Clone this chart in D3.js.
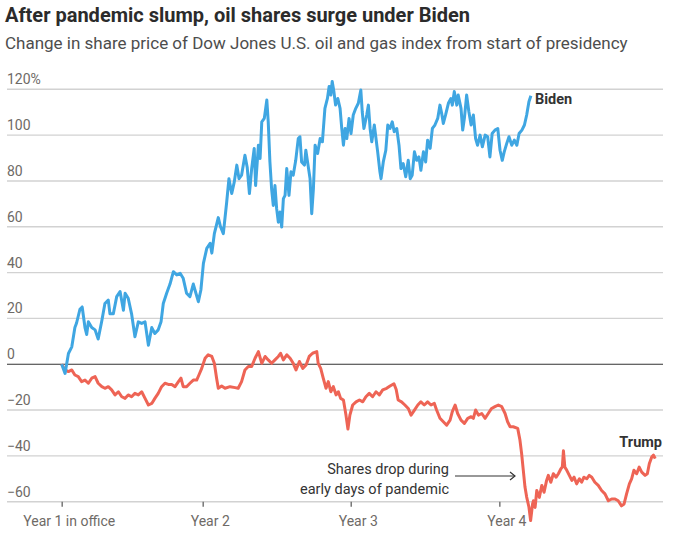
<!DOCTYPE html>
<html><head><meta charset="utf-8">
<script src="https://cdn.jsdelivr.net/npm/d3@7"></script>
<style>
body{margin:0;background:#fff;}
svg text{font-family:Roboto, "Noto Sans", sans-serif;}
</style></head>
<body><svg id="c" width="676" height="540"></svg>
<script>
// weeks since inauguration, % change in share price
const bidenWeeks = [0,1.2,2.4,3.6,4.7,5.3,6.5,7.3,8.3,8.9,9.5,10.7,11.9,13.0,14.3,15.4,16.6,17.2,18.4,19.6,20.8,22.0,22.6,23.7,24.9,26.1,27.3,28.5,29.7,30.9,32.1,33.2,34.4,35.4,36.2,37.4,38.6,39.8,41.0,42.2,43.3,44.5,45.7,46.9,47.5,48.7,49.6,50.5,51.7,52.9,53.5,54.4,55.8,56.6,57.6,58.8,59.6,60.6,61.5,62.4,63.2,64.1,65.3,66.1,66.9,67.7,68.6,69.1,70.1,70.7,71.3,72.2,73.1,73.6,74.2,74.8,75.4,76.0,76.6,77.2,77.8,78.4,79.0,79.6,80.2,81.0,81.7,82.5,83.4,84.3,84.9,85.5,86.5,87.0,87.7,88.5,89.1,89.7,90.3,91.2,92.1,92.9,93.8,94.7,95.3,95.9,96.4,97.0,97.6,98.4,99.2,99.8,100.4,101.0,101.6,102.4,103.1,103.9,104.8,105.7,106.6,107.1,107.7,108.7,109.3,109.9,110.5,111.4,112.6,113.4,113.8,114.6,115.5,116.2,117.0,117.8,118.5,119.4,120.2,120.9,121.7,122.6,123.5,124.2,124.9,125.7,126.5,127.3,128.0,128.9,129.7,130.4,131.3,132.1,133.0,134.0,134.8,135.4,136.0,136.8,137.8,138.7,139.2,139.9,140.8,141.3,142.3,142.9,143.5,144.3,145.1,145.9,146.7,147.5,148.2,149.1,149.9,150.9,151.8,152.6,153.4,154.4,155.4,156.2,157.0,157.7,158.6,159.4,160.4,161.3,162.2,163.0,164.0,164.9,165.7,166.5,167.2];
const bidenValues = [0,-4,4.7,7.6,16,18,24,25,16,13,18.5,16,15,11,19,26.5,28,22,22,29.5,31.7,23.6,31,28.8,22,12,18.5,17.8,18.5,8.3,16,13.4,15,18.5,26.5,31,35,40.4,39,39.7,37.5,31,29.5,35,32.4,27.3,32.4,44,50.6,52.8,48.5,57,64,60,57,70.8,81,74.5,79.6,86.9,81,82.5,91.2,86,74.5,85.4,94.2,78,95.6,89.8,105.8,107.3,115.3,105.8,88.3,76.6,69.3,78,67.9,62,66.4,59.9,72.3,73.7,85.4,73.7,84,82.5,89,98.5,99.3,88.3,86.9,93.4,87.6,81,65.7,76.6,95.6,92,98.5,97.1,111.7,116,121.2,117.5,123.4,119,113.1,116,111.7,102.9,95.6,102.9,98.5,107.3,100.7,108.8,111.7,113.9,119.7,110.2,102.9,108.8,113.1,102.9,97.1,104.4,92.7,84,81,88.3,93.4,104.4,102.9,105.8,101.5,102.9,95.6,85.4,87.6,81.8,89,81,82.5,92.7,89,90.5,84.7,92.7,88.3,97.8,94.2,102.9,104.4,107.3,113.1,109.5,105.1,108.8,113.9,116,113.1,119,113.1,117.5,111.7,102.2,107.3,117.5,110.2,104.4,108.8,98.5,95.6,100,94.9,100,99.3,90.5,100.7,102.2,102.9,93.4,89,92.7,96.4,99.3,95.6,97.8,95.6,100.7,102.2,104.4,108.8,114.6,117.2];

const trumpWeeks = [0,1.2,2.4,3.6,4.7,5.9,7.1,8.3,9.5,10.7,11.9,13.0,14.3,15.4,16.6,17.8,19.0,20.2,21.4,22.6,23.7,24.9,26.1,27.3,28.5,29.7,30.9,32.1,33.2,34.4,35.6,36.8,38.0,39.2,40.4,41.6,42.5,43.3,44.5,45.7,46.9,48.1,48.9,49.9,51.1,52.2,53.5,54.4,55.2,55.8,57.0,58.2,60.0,61.8,62.9,64.1,65.3,66.5,67.7,68.9,70.1,71.3,72.5,73.6,74.8,76.0,77.2,78.0,79.0,80.2,81.4,82.5,83.5,84.7,85.9,87.1,88.2,89.4,90.9,91.4,92.3,93.2,94.2,95.0,95.9,96.8,97.8,98.6,99.4,100.4,101.3,102.0,102.7,103.7,104.9,106.1,107.3,108.4,109.6,110.8,112.0,113.2,114.4,115.8,117.0,118.4,119.2,119.9,121.1,122.3,123.5,124.5,125.7,126.9,128.0,129.2,130.4,131.6,132.8,133.6,134.8,136.0,137.2,138.4,139.2,140.2,141.1,142.3,143.5,144.7,145.9,146.7,147.5,148.5,149.7,150.9,152.0,153.2,154.4,155.6,156.8,158.0,158.9,159.8,160.9,162.5,163.3,163.9,164.5,165.1,165.7,166.5,167.1,167.8,168.1,168.7,169.3,170.2,171.1,171.9,172.8,173.4,174.3,175.2,176.2,177.0,177.9,178.4,178.8,179.3,180.0,180.9,181.8,182.6,183.5,184.5,185.3,186.1,187.1,188.0,188.9,190.0,191.2,192.4,193.6,194.8,196.0,197.2,198.3,199.5,200.4,201.3,202.3,203.1,203.9,204.9,205.8,206.7,207.9,208.7,209.4,210.3,210.9,211.5];
const trumpValues = [0,-2.5,-3.2,-2.5,-4.7,-5.4,-7.6,-6.9,-8.3,-6.1,-5.4,-8.3,-9.8,-10.5,-9.8,-11.2,-13.4,-12,-14.2,-14.9,-13.4,-14.2,-12.7,-13.4,-12,-14.9,-17.8,-17.1,-14.9,-12.7,-9.8,-8.3,-8.8,-8.8,-9.8,-7.6,-6.1,-9.8,-9.8,-8.3,-6.9,-6.9,-4.7,-1.8,2.6,4.1,3.4,0.4,-6.1,-10.5,-9.5,-10.5,-9.8,-10.2,-10.5,-7.6,-2.5,-1,-1,2.6,5.5,0.4,3.4,1.9,0.4,1.9,3.4,4.8,1.9,4.1,2.6,0.4,-2.5,1.2,-1.8,-0.3,3.4,4.8,5.5,0.4,-1.8,-6.1,-10.5,-7.6,-12,-9.8,-13.4,-12,-14.9,-15.6,-22.2,-28.3,-22.2,-17.8,-16.4,-15.6,-16.4,-14.2,-12.7,-14.2,-12,-13.4,-11.2,-10.5,-9.5,-8.5,-11,-15.6,-16.4,-17.8,-19.3,-22.2,-20,-17.8,-16.4,-17.8,-16.4,-17.8,-17.1,-20,-23.6,-25.1,-26.6,-24.4,-20.7,-17.8,-21.5,-24.4,-25.8,-23.6,-22.9,-23.6,-20,-22.2,-21.5,-23.6,-21.5,-19.3,-18.5,-17.8,-18.5,-21.5,-25.1,-27.3,-27.3,-28,-33.1,-39,-46.3,-53.6,-58,-62.3,-68.2,-61,-59.6,-62.5,-55.1,-58.1,-52.9,-55.9,-50.7,-48.5,-51.5,-47.8,-49.3,-47.8,-45.6,-44.9,-37.8,-44.9,-46.3,-48.5,-50.7,-49.3,-52.2,-50,-51.5,-49.3,-50,-48.5,-49.3,-51.5,-52.9,-55.1,-56.6,-59.6,-58.8,-58.8,-59.6,-61.8,-61,-56.6,-52.2,-50,-46.3,-47.8,-44.9,-47.1,-48.5,-47.8,-43.4,-40.4,-39.7,-41.2];

const yTicks = [120,100,80,60,40,20,0,-20,-40,-60];
const xTickWeeks = [0,50.25,103,155.95];
const xTickLabels = ["Year 1 in office","Year 2","Year 3","Year 4"];
const titleText = "After pandemic slump, oil shares surge under Biden";
const subtitleText = "Change in share price of Dow Jones U.S. oil and gas index from start of presidency";
const annotationLines = ["Shares drop during","early days of pandemic"];

const svg = d3.select("#c");
const x = d3.scaleLinear().domain([0,211.5]).range([61.7,655.2]);
const y = d3.scaleLinear().domain([-60,120]).range([501.7,89.3]);
const gridLeft = 7, gridRight = 663;

svg.append("text").attr("x",5).attr("y",22).attr("font-size",20).attr("font-weight","bold").attr("fill","#2b2b2b").text(titleText);
svg.append("text").attr("x",5).attr("y",49).attr("font-size",17).attr("fill","#4d4d4d").text(subtitleText);

const fmt = d => (d===120? "120%" : (d<0? "\u2212"+Math.abs(d) : String(d)));
yTicks.forEach(t=>{
  svg.append("line").attr("x1",gridLeft).attr("x2",gridRight).attr("y1",y(t)).attr("y2",y(t))
    .attr("stroke", t===0? "#333":"#d2d2d2").attr("stroke-width", t===0?1.2:1.4);
  svg.append("text").attr("x",gridLeft).attr("y",y(t)-5).attr("font-size",14).attr("fill","#6e6a66")
    .text(fmt(t));
});

// x axis ticks
const xAxis = d3.axisBottom(x).tickValues(xTickWeeks).tickSize(5).tickFormat((d,i)=>xTickLabels[i]);
const gx = svg.append("g").attr("transform",`translate(0,${y(-60)})`).call(xAxis);
gx.select(".domain").remove();
gx.selectAll(".tick line").attr("stroke","#777").attr("stroke-width",1.5);
gx.selectAll(".tick text").attr("font-size",14).attr("fill","#6e6a66").attr("dy",0).attr("y",24).attr("dx",7)
  .attr("font-family","Roboto, sans-serif");

const line = d3.line().x(d=>x(d[0])).y(d=>y(d[1]));
const trump = trumpWeeks.map((w,i)=>[w,trumpValues[i]]);
const biden = bidenWeeks.map((w,i)=>[w,bidenValues[i]]);
svg.append("path").datum(trump).attr("d",line).attr("fill","none").attr("stroke","#ee6455").attr("stroke-width",3).attr("stroke-linejoin","round");
svg.append("path").datum(biden).attr("d",line).attr("fill","none").attr("stroke","#3fa6e2").attr("stroke-width",3).attr("stroke-linejoin","round");

svg.append("text").attr("x",535).attr("y",103.5).attr("font-size",14.5).attr("font-weight","bold").attr("fill","#333").text("Biden");
svg.append("text").attr("x",662).attr("y",447).attr("text-anchor","end").attr("font-size",14.5).attr("font-weight","bold").attr("fill","#333").text("Trump");

annotationLines.forEach((s,i)=>{
  svg.append("text").attr("x",449).attr("y",474+i*19.5).attr("text-anchor","end").attr("font-size",14.5).attr("fill","#333").text(s);
});
svg.append("line").attr("x1",455).attr("x2",515).attr("y1",476).attr("y2",476).attr("stroke","#333").attr("stroke-width",1.2);
svg.append("path").attr("d","M510,472 L515,476 L510,480").attr("fill","none").attr("stroke","#333").attr("stroke-width",1.2);
</script></body></html>
